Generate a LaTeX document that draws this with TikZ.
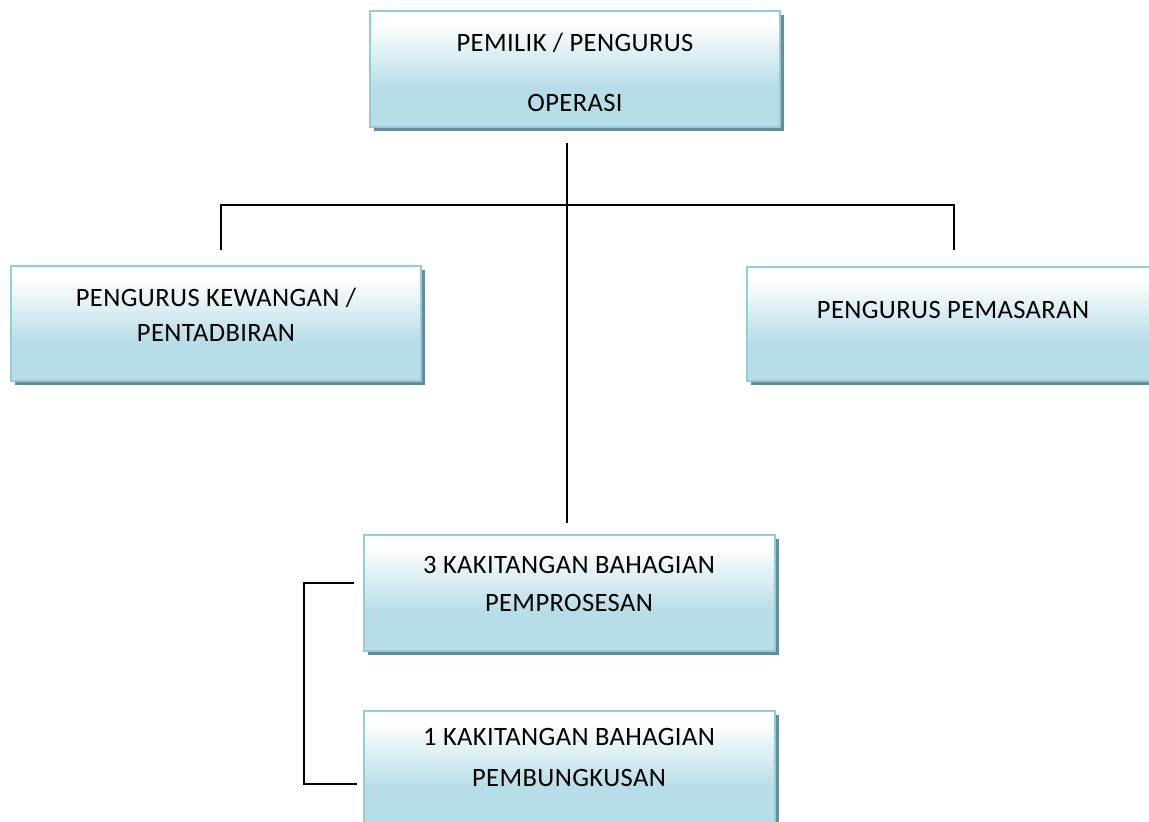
\documentclass[tikz,border=0pt]{standalone}
\usepackage{fontspec}
\setmainfont{Carlito}[LetterSpace=1.5]
\definecolor{boxblue}{RGB}{183,221,232}
\definecolor{boxborder}{RGB}{146,205,220}
\definecolor{shadowcol}{RGB}{105,140,150}
\pgfdeclareverticalshading{boxshade}{100bp}{color(0bp)=(boxblue); color(25bp)=(boxblue); color(42bp)=(boxblue); color(70bp)=(white); color(100bp)=(white)}
\tikzset{
  orgbox/.style={draw=boxborder, line width=2.8pt, shading=boxshade, inner sep=0pt,
    preaction={draw=none, fill=shadowcol, transform canvas={shift={(4pt,-4pt)}}}},
  boxtext/.style={font=\fontsize{26.5}{30}\selectfont, align=center, inner sep=0pt},
  conn/.style={line width=1.4pt, black}
}
\begin{document}
\begin{tikzpicture}[x=1pt,y=-1pt]
\useasboundingbox (0,0) rectangle (1149,822);
\clip (0,0) rectangle (1149,822);
% boxes
\node[orgbox, minimum width=410pt, minimum height=116pt] (top) at (575,69) {};
\node[orgbox, minimum width=410pt, minimum height=115pt] (kew) at (216,323.5) {};
\node[orgbox, minimum width=410pt, minimum height=114pt] (pem) at (952,324) {};
\node[orgbox, minimum width=411pt, minimum height=116pt] (pro) at (569.5,593) {};
\node[orgbox, minimum width=411pt, minimum height=116pt] (bun) at (569.5,769) {};
% texts
\node[boxtext] (t1) at (575,43) {PEMILIK / PENGURUS};
\node[boxtext] (t2) at (575,103) {OPERASI};
\node[boxtext] (t3) at (216,298) {PENGURUS KEWANGAN /};
\node[boxtext] (t4) at (216,333) {PENTADBIRAN};
\node[boxtext] (t5) at (953,310) {PENGURUS PEMASARAN};
\node[boxtext] (t6) at (569,565) {3 KAKITANGAN BAHAGIAN};
\node[boxtext] (t7) at (569,603) {PEMPROSESAN};
\node[boxtext] (t8) at (569,737) {1 KAKITANGAN BAHAGIAN};
\node[boxtext] (t9) at (569,778) {PEMBUNGKUSAN};
% connector points
\coordinate (ct) at (567,143);
\coordinate (cj) at (567,205);
\coordinate (cb) at (567,523);
\coordinate (cl) at (221,205);
\coordinate (clb) at (221,250);
\coordinate (cr) at (954,205);
\coordinate (crb) at (954,250);
\coordinate (b1) at (354,583);
\coordinate (b2) at (304,583);
\coordinate (b3) at (304,784);
\coordinate (b4) at (357,784);
% connectors
\draw[conn] (ct) -- (cb);
\draw[conn] (clb) -- (cl) -- (cr) -- (crb);
\draw[conn] (b1) -- (b2) -- (b3) -- (b4);
\end{tikzpicture}
\end{document}
